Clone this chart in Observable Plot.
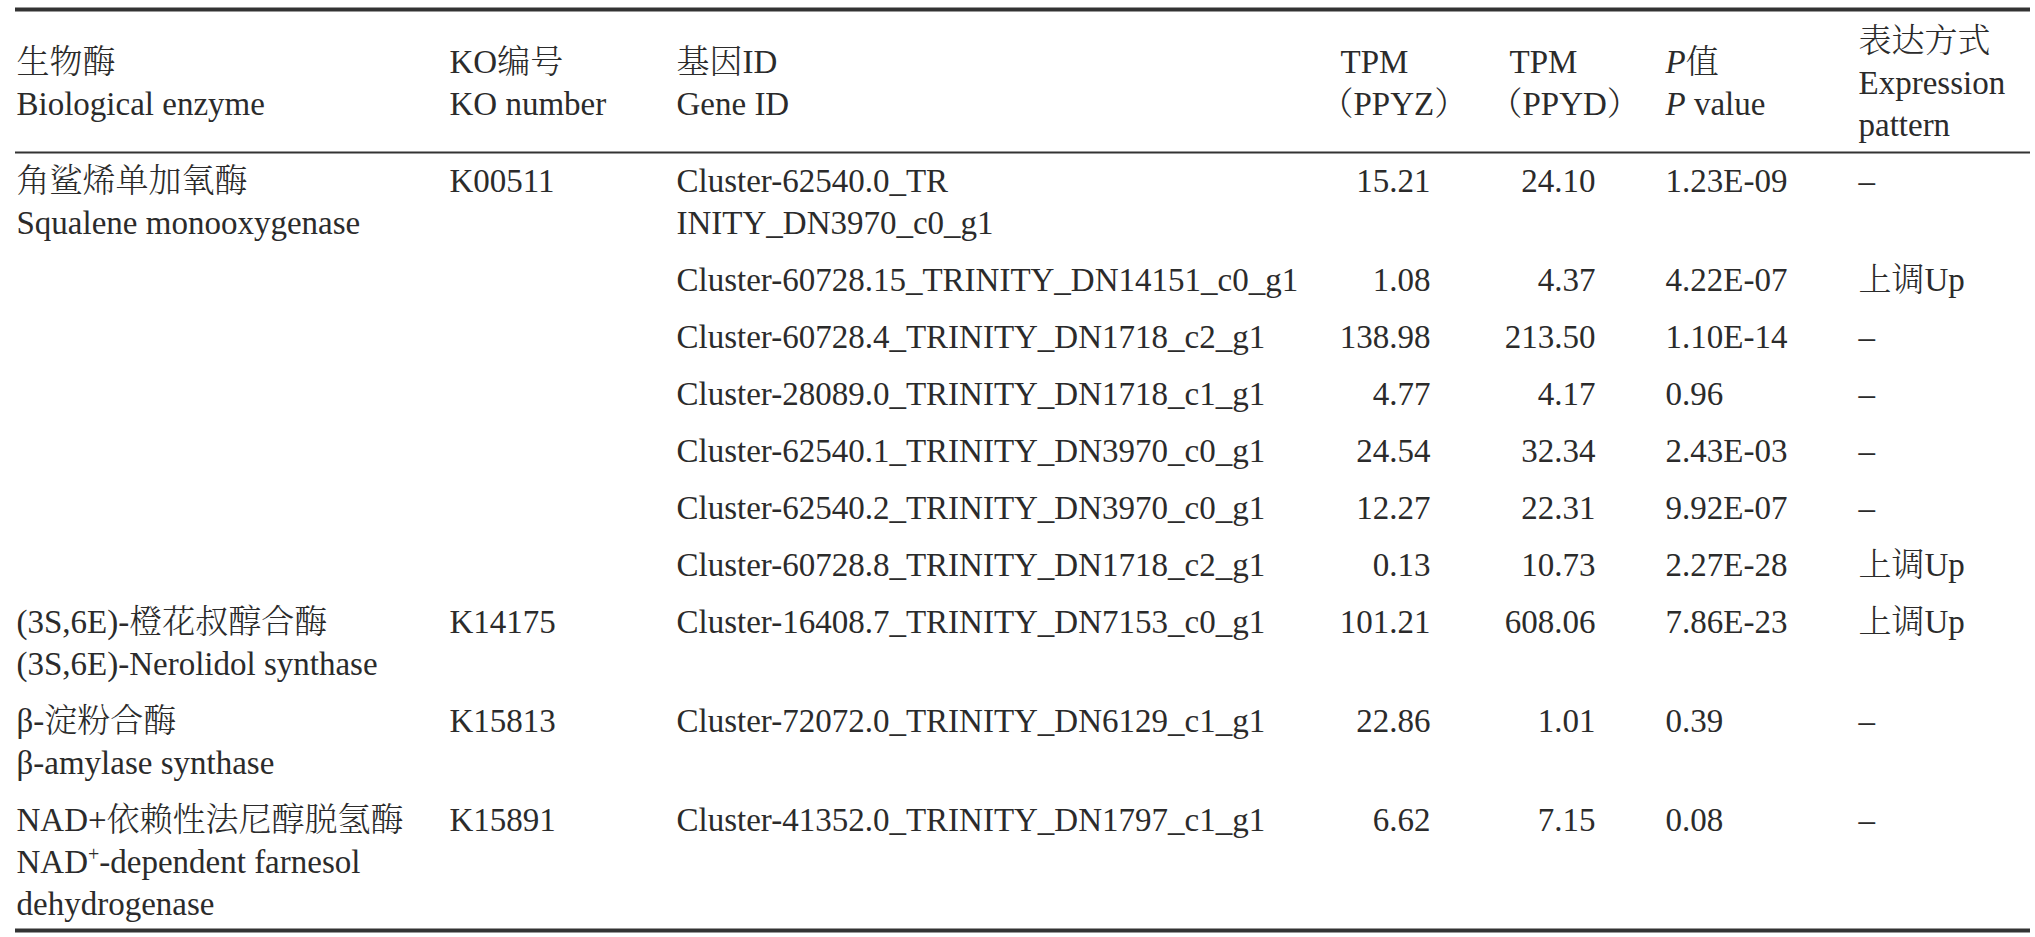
<!DOCTYPE html>
<html>
<head>
<meta charset="utf-8">
<script src="https://cdn.jsdelivr.net/npm/d3@7"></script>
<script src="https://cdn.jsdelivr.net/npm/@observablehq/plot@0.6"></script>
<style>
html,body{margin:0;padding:0;background:#fff;overflow:hidden}
#chart svg{display:block}
#chart svg text{font-weight:300}
</style>
</head>
<body>
<div id="chart"></div>
<script>
// ---------- DATA ----------
const headers = [
  ["生物酶", "Biological enzyme"],
  ["KO编号", "KO number"],
  ["基因ID", "Gene ID"],
  ["TPM", "（PPYZ）"],
  ["TPM", "（PPYD）"],
  ["P值", "P value"],
  ["表达方式", "Expression", "pattern"]
];
const enzymeCN = ["角鲨烯单加氧酶", "(3S,6E)-橙花叔醇合酶", "β-淀粉合酶", "NAD+依赖性法尼醇脱氢酶"];
const enzymeEN = [
  ["Squalene monooxygenase"],
  ["(3S,6E)-Nerolidol synthase"],
  ["β-amylase synthase"],
  ["NAD⁺-dependent farnesol", "dehydrogenase"]
];
const koNumbers = ["K00511", "K14175", "K15813", "K15891"];
const genesPerEnzyme = [7, 1, 1, 1];
const geneIds = [
  ["Cluster-62540.0_TR", "INITY_DN3970_c0_g1"],
  ["Cluster-60728.15_TRINITY_DN14151_c0_g1"],
  ["Cluster-60728.4_TRINITY_DN1718_c2_g1"],
  ["Cluster-28089.0_TRINITY_DN1718_c1_g1"],
  ["Cluster-62540.1_TRINITY_DN3970_c0_g1"],
  ["Cluster-62540.2_TRINITY_DN3970_c0_g1"],
  ["Cluster-60728.8_TRINITY_DN1718_c2_g1"],
  ["Cluster-16408.7_TRINITY_DN7153_c0_g1"],
  ["Cluster-72072.0_TRINITY_DN6129_c1_g1"],
  ["Cluster-41352.0_TRINITY_DN1797_c1_g1"]
];
const tpmPPYZ = [15.21, 1.08, 138.98, 4.77, 24.54, 12.27, 0.13, 101.21, 22.86, 6.62];
const tpmPPYD = [24.10, 4.37, 213.50, 4.17, 32.34, 22.31, 10.73, 608.06, 1.01, 7.15];
const pValues = ["1.23E-09", "4.22E-07", "1.10E-14", "0.96", "2.43E-03", "9.92E-07", "2.27E-28", "7.86E-23", "0.39", "0.08"];
const patterns = ["–", "上调Up", "–", "–", "–", "–", "上调Up", "上调Up", "–", "–"];

// ---------- LAYOUT ----------
const W = 2035, H = 937;
const FONT = 33;
const lineStep = 42, rowGap = 57, bodyTop = 181, headerMid = 82.5;
const colX = [16, 449, 676, 1340, 1509, 1665, 1858];
const parenShift = -20;
const tpmRight = [1430, 1595];
const ruleX = [15, 2030];
const thickRules = [{y: 9}, {y: 930}];
const thinRules = [{y: 152}];
const ink = "#2b2b2b";

const startCells = [];
const endCells = [];

headers.forEach((lines, c) => {
  const n = lines.length;
  lines.forEach((t, k) => {
    startCells.push({
      x: colX[c] + ((c === 3 || c === 4) && k === 1 ? parenShift : 0),
      y: headerMid + (k - (n - 1) / 2) * lineStep,
      text: t
    });
  });
});

// group starts
const groupOf = [];
const groupStart = new Set();
let idx = 0;
genesPerEnzyme.forEach((n, g) => {
  groupStart.add(idx);
  for (let k = 0; k < n; k++) groupOf.push(g);
  idx += n;
});

let y = bodyTop;
geneIds.forEach((lines, i) => {
  const g = groupOf[i];
  let nLines = lines.length;
  if (groupStart.has(i)) {
    nLines = Math.max(nLines, 1 + enzymeEN[g].length);
    startCells.push({x: colX[0], y, text: enzymeCN[g]});
    enzymeEN[g].forEach((t, k) => startCells.push({x: colX[0], y: y + (k + 1) * lineStep, text: t}));
    startCells.push({x: colX[1], y, text: koNumbers[g]});
  }
  lines.forEach((t, k) => startCells.push({x: colX[2], y: y + k * lineStep, text: t}));
  endCells.push({x: tpmRight[0], y, text: tpmPPYZ[i].toFixed(2)});
  endCells.push({x: tpmRight[1], y, text: tpmPPYD[i].toFixed(2)});
  startCells.push({x: colX[5], y, text: pValues[i]});
  startCells.push({x: colX[6], y, text: patterns[i]});
  y += (nLines - 1) * lineStep + rowGap;
});

const fontFamily = '"Liberation Serif", "Times New Roman", "Noto Serif CJK SC", "Noto Sans CJK SC", serif';

const svg = Plot.plot({
  width: W,
  height: H,
  margin: 0,
  x: {type: "identity", axis: null},
  y: {type: "identity", axis: null},
  style: {fontFamily, fontSize: FONT + "px", color: ink, background: "#fff"},
  marks: [
    Plot.ruleY(thickRules, {y: "y", x1: () => ruleX[0], x2: () => ruleX[1], stroke: "#333", strokeWidth: 4}),
    Plot.ruleY(thinRules, {y: "y", x1: () => ruleX[0], x2: () => ruleX[1], stroke: "#333", strokeWidth: 2}),
    Plot.text(startCells, {x: "x", y: "y", text: "text", textAnchor: "start", lineAnchor: "middle", fontSize: FONT, fill: ink, fontFamily}),
    Plot.text(endCells, {x: "x", y: "y", text: "text", textAnchor: "end", lineAnchor: "middle", fontSize: FONT, fill: ink, fontFamily})
  ]
});

// rich text: italic P, superscript +
d3.select(svg).selectAll("text").each(function () {
  const t = this.textContent;
  const sel = d3.select(this);
  if (t === "P值" || t === "P value") {
    sel.text(null);
    sel.append("tspan").attr("font-style", "italic").text("P");
    sel.append("tspan").text(t.slice(1));
  } else if (t.includes("⁺")) {
    const [a, b] = t.split("⁺");
    sel.text(null);
    sel.append("tspan").text(a);
    sel.append("tspan").attr("dy", -12).attr("font-size", 20).text("+");
    sel.append("tspan").attr("dy", 12).text(b);
  }
});

document.getElementById("chart").appendChild(svg);
</script>
</body>
</html>
